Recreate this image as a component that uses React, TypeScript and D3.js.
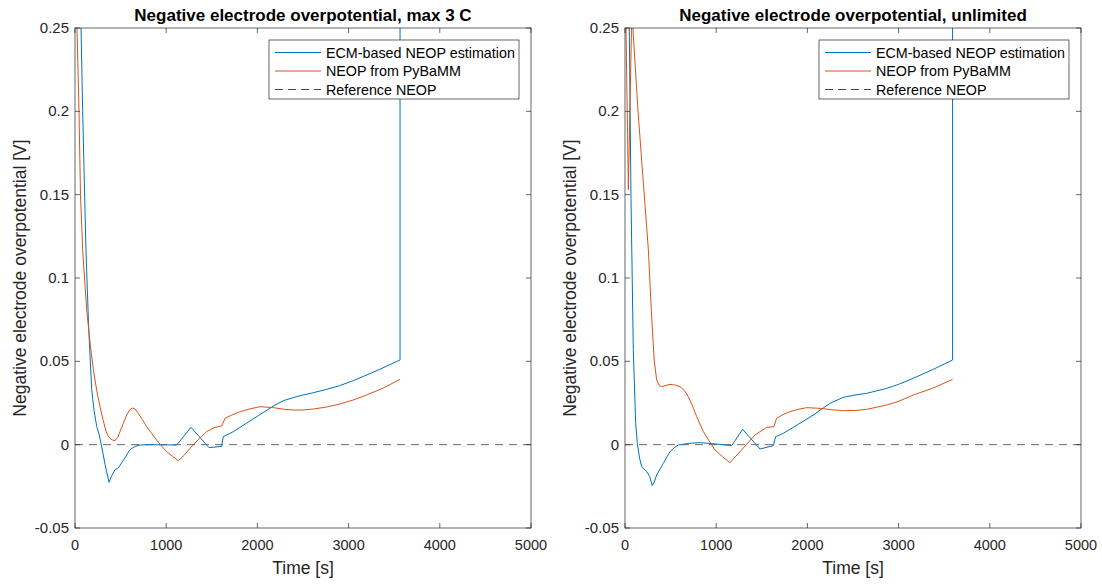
import React from "react";
import * as d3 from "d3";

// ---- data (time [s], value [V]) ----
const leftEcmT = [0, 66, 84, 120, 150, 183, 210, 238, 265, 292, 330, 373, 400, 439, 475, 540, 603, 660, 713, 822, 1115, 1272, 1469, 1608, 1626, 1736, 1950, 2175, 2284, 2467, 2600, 2760, 2900, 3052, 3300, 3564, 3564];
const leftEcmV = [0.5, 0.25, 0.2, 0.117, 0.07, 0.033, 0.02, 0.011, 0.006, -0.001, -0.012, -0.0226, -0.019, -0.015, -0.014, -0.0085, -0.003, -0.001, -0.0002, 0, -0.0002, 0.0104, -0.0018, -0.001, 0.0048, 0.0078, 0.0153, 0.0232, 0.0264, 0.0294, 0.031, 0.0332, 0.0354, 0.0384, 0.0442, 0.0508, 0.3];

const leftPyT = [0, 22, 44, 60, 84, 128, 165, 201, 240, 274, 310, 336, 360, 384, 410, 439, 470, 493, 530, 567, 600, 629, 660, 694, 740, 786, 840, 895, 950, 1005, 1070, 1133, 1200, 1261, 1350, 1444, 1535, 1608, 1620, 1645, 1720, 1809, 1920, 2028, 2175, 2300, 2394, 2500, 2613, 2750, 2906, 3050, 3198, 3380, 3564];
const leftPyV = [0.3, 0.25, 0.2, 0.15, 0.117, 0.081, 0.061, 0.045, 0.032, 0.0228, 0.0145, 0.0088, 0.0055, 0.0038, 0.0028, 0.0024, 0.0045, 0.0078, 0.0128, 0.0178, 0.0209, 0.022, 0.0213, 0.0188, 0.015, 0.0108, 0.0068, 0.0028, -0.0008, -0.0042, -0.007, -0.0096, -0.0062, -0.0022, 0.003, 0.0078, 0.0104, 0.0112, 0.0125, 0.0158, 0.0178, 0.0198, 0.0215, 0.0228, 0.0222, 0.0212, 0.0208, 0.0208, 0.0214, 0.0225, 0.0244, 0.0268, 0.0298, 0.034, 0.0392];

const rightEcmT = [0, 47, 66, 91, 117, 135, 160, 183, 238, 270, 299, 320, 347, 380, 420, 493, 540, 585, 700, 822, 1000, 1170, 1290, 1480, 1626, 1652, 1736, 1900, 2065, 2160, 2248, 2394, 2520, 2650, 2869, 3000, 3161, 3380, 3592, 3592];
const rightEcmV = [0.5, 0.25, 0.147, 0.057, 0.0128, 0.0008, -0.008, -0.0132, -0.0162, -0.019, -0.0246, -0.0225, -0.0182, -0.015, -0.0112, -0.0042, -0.0018, -0.0002, 0.0008, 0.0012, 0.0004, -0.0006, 0.0092, -0.0026, -0.0006, 0.0048, 0.0068, 0.0122, 0.0178, 0.0215, 0.0248, 0.0284, 0.0298, 0.0308, 0.0338, 0.0362, 0.0398, 0.0452, 0.0508, 0.3];

const rightPyT = [0, 11, 37, 75, 143, 200, 256, 292, 320, 347, 375, 402, 450, 493, 550, 603, 650, 694, 740, 786, 859, 920, 987, 1070, 1151, 1261, 1425, 1553, 1633, 1662, 1730, 1809, 1900, 1992, 2138, 2260, 2394, 2520, 2650, 2869, 3000, 3161, 3380, 3592];
const rightPyV = [0.3, 0.25, 0.153, 0.26, 0.2, 0.158, 0.117, 0.077, 0.0508, 0.0388, 0.0355, 0.0348, 0.0356, 0.0362, 0.0358, 0.0348, 0.0325, 0.0288, 0.0232, 0.0168, 0.0078, 0.0025, -0.0032, -0.0072, -0.0108, -0.0042, 0.0058, 0.0104, 0.0108, 0.0158, 0.018, 0.0198, 0.0212, 0.0222, 0.0218, 0.021, 0.0204, 0.0205, 0.0212, 0.0238, 0.026, 0.0298, 0.034, 0.0392];

const xTicks = [0, 1000, 2000, 3000, 4000, 5000];
const yTicks = [-0.05, 0, 0.05, 0.1, 0.15, 0.2, 0.25];
const yTickLabels = ["-0.05", "0", "0.05", "0.1", "0.15", "0.2", "0.25"];
const legendLabels = ["ECM-based NEOP estimation", "NEOP from PyBaMM", "Reference NEOP"];
const titles = ["Negative electrode overpotential, max 3 C", "Negative electrode overpotential, unlimited"];

const BLUE = "#0072BD";
const ORANGE = "#D95319";
const AX = "#262626";
const FONT = "'Liberation Sans', Arial, Helvetica, sans-serif";

type Pt = [number, number];
const zip = (t: number[], v: number[]): Pt[] => t.map((d, i) => [d, v[i]]);

function Panel({ left, idx, ecm, py }: { left: number; idx: number; ecm: Pt[]; py: Pt[] }) {
  const top = 28, bottom = 528, right = left + 456;
  const x = d3.scaleLinear().domain([0, 5000]).range([left, right]);
  const y = d3.scaleLinear().domain([-0.05, 0.25]).range([bottom, top]);
  const line = d3.line<Pt>().x((d) => x(d[0])).y((d) => y(d[1]));
  const clipId = `clip${idx}`;
  const cx = (left + right) / 2;
  const lgX = left + 194, lgY = 40, lgW = 250, lgH = 59;
  return (
    <g>
      <clipPath id={clipId}>
        <rect x={left} y={top} width={right - left} height={bottom - top} />
      </clipPath>
      <rect x={left} y={top} width={right - left} height={bottom - top} fill="#fff" />
      <g clipPath={`url(#${clipId})`}>
        <line x1={left} x2={right} y1={y(0)} y2={y(0)} stroke="#444" strokeWidth={0.8} strokeDasharray="8,6" />
        <path d={line(ecm) || ""} fill="none" stroke={BLUE} strokeWidth={1} strokeLinejoin="round" />
        <path d={line(py) || ""} fill="none" stroke={ORANGE} strokeWidth={1} strokeLinejoin="round" />
      </g>
      <rect x={left} y={top} width={right - left} height={bottom - top} fill="none" stroke={AX} strokeWidth={0.7} />
      {xTicks.map((t) => (
        <g key={"x" + t}>
          <line x1={x(t)} x2={x(t)} y1={bottom} y2={bottom - 5} stroke={AX} strokeWidth={0.7} />
          <line x1={x(t)} x2={x(t)} y1={top} y2={top + 5} stroke={AX} strokeWidth={0.7} />
          <text x={x(t)} y={bottom + 22} textAnchor="middle" fontSize={14.5} fill={AX} fontFamily={FONT}>{t}</text>
        </g>
      ))}
      {yTicks.map((t, i) => (
        <g key={"y" + t}>
          <line x1={left} x2={left + 5} y1={y(t)} y2={y(t)} stroke={AX} strokeWidth={0.7} />
          <line x1={right} x2={right - 5} y1={y(t)} y2={y(t)} stroke={AX} strokeWidth={0.7} />
          <text x={left - 6} y={y(t) + 5} textAnchor="end" fontSize={15} fill={AX} fontFamily={FONT}>{yTickLabels[i]}</text>
        </g>
      ))}
      <text x={cx} y={21} textAnchor="middle" fontSize={17} fontWeight="bold" fill="#000" fontFamily={FONT}>{titles[idx]}</text>
      <text x={cx} y={574} textAnchor="middle" fontSize={17.5} fill={AX} fontFamily={FONT}>Time [s]</text>
      <text transform={`translate(${left - 49},${(top + bottom) / 2}) rotate(-90)`} textAnchor="middle" fontSize={17.5} fill={AX} fontFamily={FONT}>
        Negative electrode overpotential [V]
      </text>
      <rect x={lgX} y={lgY} width={lgW} height={lgH} fill="#fff" stroke={AX} strokeWidth={0.7} />
      {legendLabels.map((lab, i) => {
        const ly = lgY + 12.5 + i * 18.5;
        return (
          <g key={lab}>
            <line x1={lgX + 6} x2={lgX + 52} y1={ly} y2={ly} stroke={i === 0 ? BLUE : i === 1 ? ORANGE : "#444"} strokeWidth={1} strokeDasharray={i === 2 ? "8,5" : undefined} />
            <text x={lgX + 57} y={ly + 5} fontSize={14.3} fill="#000" fontFamily={FONT}>{lab}</text>
          </g>
        );
      })}
    </g>
  );
}

export default function App() {
  return (
    <svg width={1102} height={584} style={{ position: "absolute", left: 0, top: 0, background: "#fff" }}>
      <rect width={1102} height={584} fill="#fff" />
      <Panel left={75} idx={0} ecm={zip(leftEcmT, leftEcmV)} py={zip(leftPyT, leftPyV)} />
      <Panel left={625} idx={1} ecm={zip(rightEcmT, rightEcmV)} py={zip(rightPyT, rightPyV)} />
    </svg>
  );
}
